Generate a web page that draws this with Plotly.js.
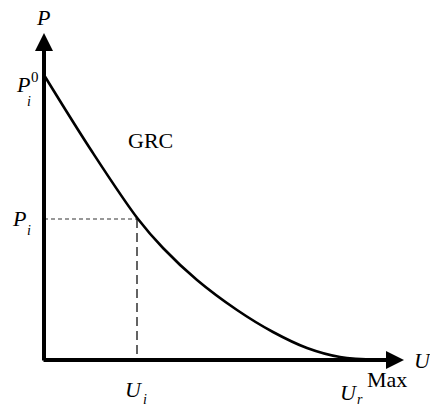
<!DOCTYPE html>
<html>
<head>
<meta charset="utf-8">
<script src="https://cdn.plot.ly/plotly-3.0.1.min.js"></script>
<style>html,body{margin:0;padding:0;background:#fff;}</style>
</head>
<body>
<div id="grc" style="width:430px;height:407px;"></div>
<script>
// GRC curve, U on x, P on y (units)
var curveU = [0, 47, 94, 119, 153, 193, 229, 263, 296, 334];
var curveP = [285, 210, 141, 112, 80, 50, 28, 12, 3, 0.5];
var Ui = 93, Pi = 141;
var axisMaxU = 360, axisMaxP = 327;

var serif = 'Liberation Serif';

var curve = {
  x: curveU, y: curveP, type: 'scatter', mode: 'lines',
  line: {color: '#000', width: 2.6, shape: 'spline', smoothing: 1},
  hoverinfo: 'skip'
};
var hDash = {
  x: [0, Ui], y: [Pi, Pi], type: 'scatter', mode: 'lines',
  line: {color: '#777', width: 1.4, dash: '4px,3px'}, hoverinfo: 'skip'
};
var vDash = {
  x: [Ui, Ui], y: [Pi, 0], type: 'scatter', mode: 'lines',
  line: {color: '#222', width: 1.4, dash: '9px,5px'}, hoverinfo: 'skip'
};

function lbl(x, y, t, size) {
  return {x: x, y: y, xref: 'x', yref: 'y', text: t, showarrow: false,
    font: {family: serif, size: size || 22, color: '#000'}};
}
function arrow(x, y, ax, ay) {
  return {x: x, y: y, ax: ax, ay: ay, xref: 'x', yref: 'y', axref: 'x', ayref: 'y',
    text: '', showarrow: true, arrowhead: 2, arrowsize: 0.9, arrowwidth: 4, arrowcolor: '#000'};
}

var layout = {
  width: 430, height: 407,
  margin: {l: 0, r: 0, t: 0, b: 0},
  paper_bgcolor: '#fff', plot_bgcolor: '#fff',
  showlegend: false,
  font: {family: serif},
  xaxis: {range: [-44, 386], visible: false, fixedrange: true},
  yaxis: {range: [-47, 360], visible: false, fixedrange: true},
  annotations: [
    arrow(axisMaxU, 0, -2, 0),
    arrow(0, axisMaxP, 0, -2),
    lbl(-1, 343, '<i>P</i>'),
    lbl(-21, 276, '<i>P</i>'),
    lbl(-9, 283, '0', 15),
    lbl(-15, 259, '<i>i</i>', 14),
    lbl(-25, 142, '<i>P</i>'),
    lbl(-15, 130, '<i>i</i>', 14),
    lbl(106, 220, 'GRC'),
    lbl(90, -29, '<i>U</i>'),
    lbl(101, -39, '<i>i</i>', 14),
    lbl(305, -32, '<i>U</i>'),
    lbl(316, -39, '<i>r</i>', 14),
    lbl(343, -19, 'Max'),
    lbl(379, 0, '<i>U</i>')
  ]
};

Plotly.newPlot('grc', [hDash, vDash, curve], layout, {displayModeBar: false, staticPlot: true});
</script>
</body>
</html>
